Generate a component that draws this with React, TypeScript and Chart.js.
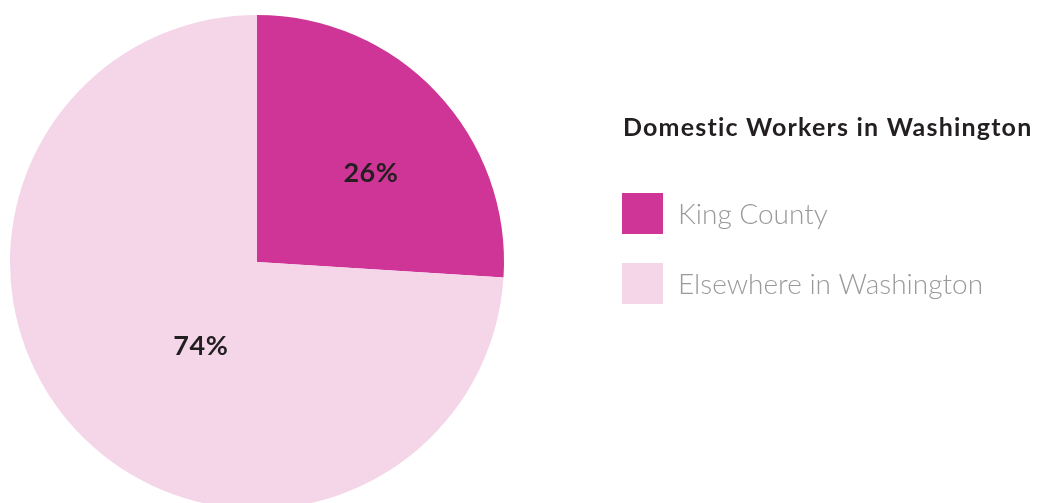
import React, { useEffect, useRef } from "react";
import { Chart, registerables } from "chart.js";

Chart.register(...registerables);

const categories = ["King County", "Elsewhere in Washington"];
const shares = [26, 74];
const sliceLabels = ["26%", "74%"];
const colors = ["#CF3596", "#F4D6E8"];
const legendTitle = "Domestic Workers in Washington";

// label placement: angle shift (deg) from slice mid angle, distance as fraction of radius
const labelAngleShift = [5.2, -13.1];
const labelRadiusFactor = [0.585, 0.41];

const FONT = "Lato, 'Open Sans', 'DejaVu Sans', sans-serif";

const overlayPlugin = {
  id: "overlay",
  afterDatasetsDraw(chart: any) {
    const ctx = chart.ctx;
    const meta = chart.getDatasetMeta(0);
    ctx.save();
    // slice labels
    ctx.fillStyle = "#231f20";
    ctx.font = `bold 27px ${FONT}`;
    ctx.textAlign = "center";
    ctx.textBaseline = "middle";
    (ctx as any).letterSpacing = "0.5px";
    meta.data.forEach((arc: any, i: number) => {
      const p = arc.getProps(["x", "y", "startAngle", "endAngle", "outerRadius"], true);
      const mid = (p.startAngle + p.endAngle) / 2 + (labelAngleShift[i] * Math.PI) / 180;
      const r = p.outerRadius * labelRadiusFactor[i];
      ctx.fillText(sliceLabels[i], p.x + Math.cos(mid) * r, p.y + Math.sin(mid) * r);
    });

    // legend
    const lx = 622;
    ctx.textAlign = "left";
    ctx.textBaseline = "alphabetic";
    ctx.fillStyle = "#231f20";
    ctx.font = `bold 25px ${FONT}`;
    (ctx as any).letterSpacing = "1.2px";
    ctx.fillText(legendTitle, lx + 1, 136);
    (ctx as any).letterSpacing = "0px";
    const labels = chart.data.labels as string[];
    const bg = chart.data.datasets[0].backgroundColor as string[];
    labels.forEach((lab, i) => {
      const top = 193 + i * 70;
      ctx.fillStyle = bg[i];
      ctx.fillRect(lx, top, 41, 41);
      ctx.fillStyle = "#9a9a9c";
      ctx.font = `300 28px ${FONT}`;
      ctx.fillText(lab, lx + 56, top + 31);
    });
    ctx.restore();
  },
};

export default function App() {
  const ref = useRef<HTMLCanvasElement>(null);
  useEffect(() => {
    if (!ref.current) return;
    const chart = new Chart(ref.current, {
      type: "pie",
      data: {
        labels: categories,
        datasets: [
          {
            data: shares,
            backgroundColor: colors,
            borderWidth: 0,
          },
        ],
      },
      options: {
        animation: false,
        responsive: true,
        maintainAspectRatio: false,
        layout: { padding: { left: 10, top: 15, right: 536, bottom: 11 } },
        plugins: { legend: { display: false }, tooltip: { enabled: false } },
      },
      plugins: [overlayPlugin],
    });
    return () => chart.destroy();
  }, []);
  return (
    <div
      style={{
        position: "absolute",
        top: 0,
        left: 0,
        width: 1040,
        height: 503,
        overflow: "hidden",
        background: "#fff",
      }}
    >
      <div style={{ position: "relative", width: 1040, height: 520 }}>
        <canvas ref={ref} />
      </div>
    </div>
  );
}
